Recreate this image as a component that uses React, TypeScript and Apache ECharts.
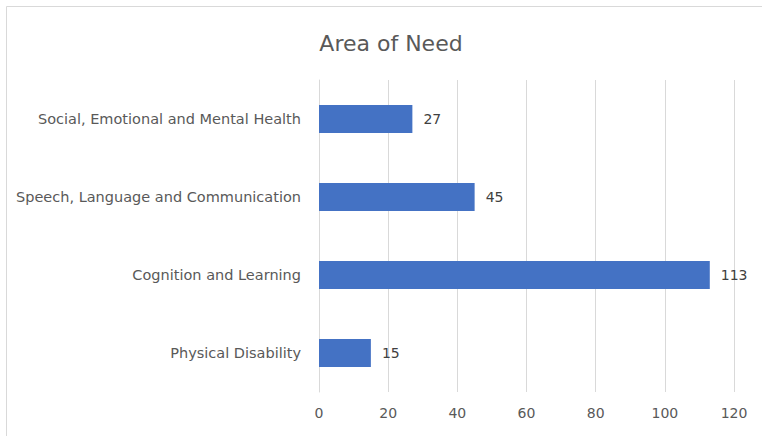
import React, { useEffect, useRef } from "react";
import * as echarts from "echarts";

const categories = [
  "Physical Disability",
  "Cognition and Learning",
  "Speech, Language and Communication",
  "Social, Emotional and Mental Health",
];
const values = [15, 113, 45, 27];
const titleText = "Area of Need";

const FONT = "DejaVu Sans";

export default function App() {
  const ref = useRef<HTMLDivElement>(null);
  useEffect(() => {
    document.body.style.margin = "0";
    const chart = echarts.init(ref.current!, null, { renderer: "svg" });
    chart.setOption({
      animation: false,
      backgroundColor: "#ffffff",
      title: {
        text: titleText,
        left: 386,
        top: 27,
        textAlign: "center",
        textStyle: { fontFamily: FONT, fontSize: 22, fontWeight: "normal", color: "#595959" },
      },
      graphic: [
        {
          type: "rect",
          shape: { x: 6.5, y: 6.5, width: 800, height: 500 },
          style: { fill: "none", stroke: "#d9d9d9", lineWidth: 1 },
          silent: true,
        },
      ],
      grid: { left: 319, right: 28, top: 80, bottom: 44 },
      xAxis: {
        type: "value",
        min: 0,
        max: 120,
        interval: 20,
        axisLine: { show: false },
        axisTick: { show: false },
        splitLine: { show: true, lineStyle: { color: "#d9d9d9", width: 1 } },
        axisLabel: { color: "#595959", fontFamily: FONT, fontSize: 14, margin: 14 },
      },
      yAxis: {
        type: "category",
        data: categories,
        axisLine: { show: true, lineStyle: { color: "#d9d9d9" } },
        axisTick: { show: false },
        axisLabel: { color: "#595959", fontFamily: FONT, fontSize: 14.5, margin: 18 },
      },
      series: [
        {
          type: "bar",
          data: values,
          barWidth: 28,
          itemStyle: { color: "#4472c4" },
          label: {
            show: true,
            position: "right",
            distance: 11,
            color: "#404040",
            fontFamily: FONT,
            fontSize: 14,
          },
        },
      ],
    });
    return () => chart.dispose();
  }, []);
  return <div ref={ref} style={{ width: 762, height: 436 }} />;
}
